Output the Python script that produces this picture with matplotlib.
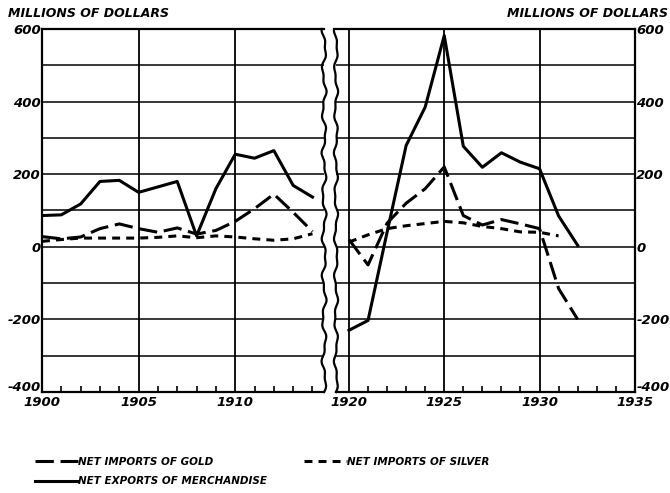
import numpy as np
import matplotlib
matplotlib.use('Agg')
import matplotlib.pyplot as plt
import matplotlib.transforms as mtransforms
from matplotlib.lines import Line2D

# values (millions of dollars)
years_a = list(range(1900, 1915))
merch_a = [86, 88, 118, 180, 183, 150, 165, 180, 30, 160, 255, 244, 265, 169, 137]
gold_a = [28, 22, 27, 50, 63, 50, 40, 52, 35, 45, 70, 105, 145, 95, 42]
silver_a = [15, 20, 24, 24, 24, 24, 26, 30, 25, 30, 27, 22, 18, 22, 36]

years_b = list(range(1920, 1933))
merch_b = [-230, -203, 40, 279, 385, 582, 277, 219, 259, 233, 215, 85, 4]
gold_b = [20, -50, 65, 120, 160, 220, 86, 60, 75, 63, 50, -115, -200]
years_silver_b = list(range(1920, 1932))
silver_b = [13, 33, 50, 58, 64, 70, 66, 56, 50, 41, 40, 30]

ylabels = {600: '600', 400: '400', 200: '200', 0: '0', -200: '-200', -400: '-400'}

plt.rcParams['font.family'] = ['DejaVu Sans']
FONT = dict(fontweight='bold', fontstyle='italic')

fig = plt.figure(figsize=(6.7, 4.93), dpi=100)
ax1 = fig.add_axes([0.0627, 0.2049, 0.421, 0.7363])
ax2 = fig.add_axes([0.5015, 0.2049, 0.446, 0.7363])

gold_style = dict(color='black', lw=2.2, dashes=(6, 2.2))
silver_style = dict(color='black', lw=2.2, dashes=(2.6, 2.0))
merch_style = dict(color='black', lw=2.2)


def setup(ax, xlim, majors, side):
    ax.set_xlim(*xlim)
    ax.set_ylim(-400, 600)
    yt = list(range(-400, 601, 100))
    ax.set_yticks(yt)
    ax.set_yticklabels([ylabels.get(v, '') for v in yt], **FONT, fontsize=9.5)
    ax.set_xticks(majors)
    ax.set_xticklabels([str(m) for m in majors], **FONT, fontsize=9.5)
    ax.set_xticks(np.arange(np.ceil(xlim[0]), xlim[1] + 0.01, 1), minor=True)
    ax.tick_params(axis='x', which='minor', direction='in', length=4, width=1.2)
    ax.tick_params(axis='x', which='major', direction='in', length=0, pad=3)
    ax.tick_params(axis='y', length=0, pad=1)
    if side == 'right':
        ax.yaxis.tick_right()
    for v in yt[1:-1]:
        ax.axhline(v, color='black', lw=1.1, zorder=1)
    for m in majors:
        if xlim[0] < m < xlim[1]:
            ax.axvline(m, color='black', lw=1.3, zorder=1)
    for s in ax.spines.values():
        s.set_linewidth(1.6)
    # lift the bottom label a little off the year labels
    lift = mtransforms.ScaledTranslation(0, 4 / 72, fig.dpi_scale_trans)
    lab = ax.get_yticklabels()[0]
    lab.set_transform(lab.get_transform() + lift)


setup(ax1, (1900, 1914.6), [1900, 1905, 1910], 'left')
setup(ax2, (1919.32, 1935), [1920, 1925, 1930, 1935], 'right')

ax1.plot(years_a, merch_a, **merch_style, zorder=3)
ax1.plot(years_a, gold_a, **gold_style, zorder=3)
ax1.plot(years_a, silver_a, **silver_style, zorder=3)

ax2.plot(years_b, merch_b, **merch_style, zorder=3)
ax2.plot(years_b, gold_b, **gold_style, zorder=3)
ax2.plot(years_silver_b, silver_b, **silver_style, zorder=3)

# wavy break edges
t = np.linspace(0, 1, 200)
wig = 0.006 * np.sin(t * 55) + 0.003 * np.sin(t * 131)
ax1.spines['right'].set_visible(False)
ax1.plot(1 + wig, t, transform=ax1.transAxes, color='black', lw=1.6, clip_on=False)
ax2.spines['left'].set_visible(False)
ax2.plot(0 + wig * 0.8, t, transform=ax2.transAxes, color='black', lw=1.6, clip_on=False)

fig.text(0.012, 0.96, 'MILLIONS OF DOLLARS', **FONT, fontsize=9, va='bottom')
fig.text(0.997, 0.96, 'MILLIONS OF DOLLARS', **FONT, fontsize=9, ha='right', va='bottom')

handles = [Line2D([], [], **gold_style), Line2D([], [], **merch_style),
           Line2D([], [], **silver_style)]
names = ['NET IMPORTS OF GOLD', 'NET EXPORTS OF MERCHANDISE', 'NET IMPORTS OF SILVER']
fig.legend(handles, names, loc='upper left', bbox_to_anchor=(0.052, 0.074),
           ncol=2, frameon=False, handlelength=4.1, handletextpad=0.0,
           columnspacing=3.6, labelspacing=0.95, borderaxespad=0, borderpad=0,
           prop=dict(weight='bold', style='italic', size=7.5))

fig.savefig('out.png', dpi=100)
